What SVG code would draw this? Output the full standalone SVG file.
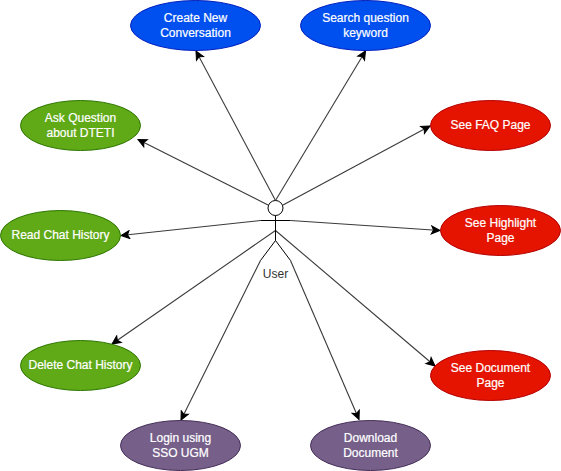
<svg xmlns="http://www.w3.org/2000/svg" width="561" height="471" viewBox="0 0 561 471">
<style>
text{font-family:"Liberation Sans",Arial,sans-serif;font-size:12px;text-anchor:middle;fill:#fff;stroke:#fff;stroke-width:.2px}
ellipse{stroke-width:1}
.blue{fill:#0050ef;stroke:#001dbc}
.green{fill:#60a917;stroke:#2d7600}
.red{fill:#e51400;stroke:#b20000}
.purple{fill:#76608a;stroke:#432d57}
.c{fill:none;stroke:#3a3a3a;stroke-width:1.1;marker-end:url(#arrow)}
.a{fill:none;stroke:#000;stroke-width:1}
</style>
<defs>
<marker id="arrow" markerUnits="userSpaceOnUse" markerWidth="12" markerHeight="10" viewBox="0 0 12 10" refX="10" refY="5" orient="auto">
<path d="M10 5L1.5 1L3.5 5L1.5 9Z" fill="#000" stroke="#000" stroke-width="1"/>
</marker>
</defs>
<g id="connectors">
<path class="c" d="M275.5 200.5L196 51"/>
<path class="c" d="M275.5 200.5L365.5 51"/>
<path class="c" d="M268 205L138 139.5"/>
<path class="c" d="M283 205L430 126"/>
<path class="c" d="M290.5 220.5L440 230.5"/>
<path class="c" d="M260.5 220.5L121 235.5"/>
<path class="c" d="M275.5 230.5L112 344"/>
<path class="c" d="M275.5 230.5L435 366"/>
<path class="c" d="M260.5 260.5L181 420"/>
<path class="c" d="M290.5 260.5L359 419.5"/>
</g>
<g id="actor-user">
<ellipse cx="275.5" cy="208" rx="7.5" ry="7.5" fill="#fff" stroke="#000"/>
<path class="a" d="M275.5 215.5V240.5M260.5 220.5H290.5M260.5 260.5L275.5 240.5L290.5 260.5"/>
<text x="275.5" y="278" style="fill:#333;stroke:none">User</text>
</g>
<g id="create-conversation"><ellipse class="blue" cx="195.5" cy="25.5" rx="65" ry="25"/><text x="195.5" y="22">Create New</text><text x="195.5" y="37">Conversation</text></g>
<g id="search-keyword"><ellipse class="blue" cx="365.5" cy="25.5" rx="65" ry="25"/><text x="365.5" y="22">Search question</text><text x="365.5" y="37">keyword</text></g>
<g id="ask-question"><ellipse class="green" cx="80.5" cy="125.5" rx="60" ry="25"/><text x="80.5" y="122">Ask Question</text><text x="80.5" y="137">about DTETI</text></g>
<g id="read-history"><ellipse class="green" cx="60.5" cy="235.5" rx="60" ry="25"/><text x="60.5" y="239">Read Chat History</text></g>
<g id="delete-history"><ellipse class="green" cx="80.5" cy="365.5" rx="60" ry="25"/><text x="80.5" y="369">Delete Chat History</text></g>
<g id="see-faq"><ellipse class="red" cx="490.5" cy="125.5" rx="60" ry="25"/><text x="490.5" y="129">See FAQ Page</text></g>
<g id="see-highlight"><ellipse class="red" cx="500.5" cy="230.5" rx="60" ry="25"/><text x="500.5" y="227">See Highlight</text><text x="500.5" y="242">Page</text></g>
<g id="see-document"><ellipse class="red" cx="490.5" cy="375.5" rx="60" ry="25"/><text x="490.5" y="372">See Document</text><text x="490.5" y="387">Page</text></g>
<g id="login-sso"><ellipse class="purple" cx="180.5" cy="445.5" rx="60" ry="25"/><text x="180.5" y="442">Login using</text><text x="180.5" y="457">SSO UGM</text></g>
<g id="download-document"><ellipse class="purple" cx="370.5" cy="445.5" rx="60" ry="25"/><text x="370.5" y="442">Download</text><text x="370.5" y="457">Document</text></g>
</svg>
